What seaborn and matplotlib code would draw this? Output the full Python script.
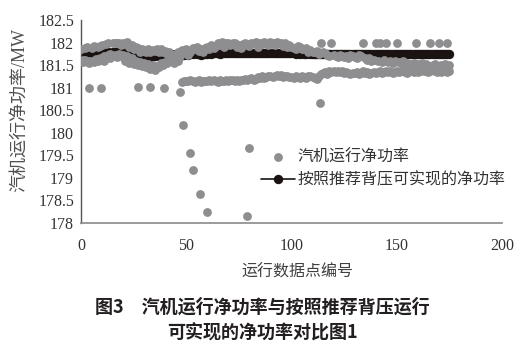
import numpy as np
import pandas as pd
import seaborn as sns
import matplotlib.pyplot as plt

# data point number 0..175
point_no = list(range(176))

# 按照推荐背压可实现的净功率 (black line)
recommended = [
    181.74, 181.72, 181.75, 181.73, 181.70, 181.74, 181.76, 181.72, 181.75, 181.73,
    181.76, 181.78, 181.75, 181.79, 181.77, 181.80, 181.78, 181.79, 181.77, 181.80,
    181.78, 181.76, 181.79, 181.75, 181.77, 181.74, 181.76, 181.72, 181.75, 181.71,
    181.73, 181.70, 181.72, 181.69, 181.71, 181.70, 181.73, 181.70, 181.74, 181.72,
    181.75, 181.73, 181.76, 181.74, 181.72, 181.75, 181.73, 181.71, 181.74, 181.72,
    181.74, 181.73, 181.75, 181.74, 181.76, 181.74, 181.75, 181.73, 181.75, 181.74,
    181.75, 181.76, 181.75, 181.76, 181.77, 181.76, 181.75, 181.76, 181.77, 181.76,
    181.76, 181.77, 181.76, 181.77, 181.76, 181.77, 181.76, 181.76, 181.77, 181.76,
    181.77, 181.76, 181.77, 181.76, 181.76, 181.77, 181.76, 181.77, 181.76, 181.76,
    181.76, 181.77, 181.76, 181.76, 181.77, 181.76, 181.76, 181.77, 181.76, 181.76,
    181.76, 181.76, 181.75, 181.76, 181.75, 181.76, 181.75, 181.75, 181.76, 181.75,
    181.74, 181.75, 181.74, 181.74, 181.75, 181.74, 181.74, 181.75, 181.74, 181.74,
    181.74, 181.74, 181.74, 181.74, 181.74, 181.74, 181.74, 181.74, 181.74, 181.74,
    181.74, 181.74, 181.74, 181.74, 181.74, 181.74, 181.74, 181.74, 181.74, 181.74,
    181.74, 181.74, 181.74, 181.74, 181.74, 181.74, 181.74, 181.74, 181.74, 181.74,
    181.74, 181.74, 181.74, 181.74, 181.74, 181.74, 181.74, 181.74, 181.74, 181.74,
    181.74, 181.74, 181.74, 181.74, 181.74, 181.74, 181.74, 181.74, 181.74, 181.74,
    181.74, 181.74, 181.74, 181.74, 181.74, 181.74,
]

# 汽机运行净功率 (gray points) - upper band, one per point
net_upper = [
    181.85, 181.62, 181.88, 181.90, 181.60, 181.87, 181.92, 181.64, 181.90, 181.93,
    181.95, 181.60, 181.97, 181.98, 181.66, 181.99, 182.00, 181.98, 182.00, 181.95,
    182.00, 181.97, 182.02, 181.90, 181.95, 181.85, 181.90, 181.88, 181.80, 181.85,
    181.82, 181.78, 181.85, 181.80, 181.84, 181.82, 181.86, 181.80, 181.85, 181.78,
    181.82, 181.75, 181.80, 181.70, 181.72, 181.65, 181.80, 181.70, 181.83, 181.78,
    181.85, 181.72, 181.80, 181.88, 181.85, 181.90, 181.82, 181.85, 181.78, 181.88,
    181.90, 181.85, 181.95, 181.88, 181.92, 182.00, 181.95, 182.02, 181.90, 181.98,
    182.00, 181.95, 181.98, 182.00, 181.90, 181.95, 181.88, 181.97, 182.00, 181.95,
    181.93, 182.00, 181.98, 182.02, 181.90, 182.00, 181.96, 182.02, 182.00, 181.95,
    182.02, 182.00, 181.95, 182.02, 182.00, 181.98, 181.92, 182.00, 181.90, 181.95,
    181.90, 181.88, 181.85, 181.92, 181.90, 181.86, 181.85, 181.88, 181.80, 181.84,
    181.80, 181.78, 181.82, 181.75, 182.00, 181.78, 181.76, 181.72, 181.70, 182.00,
    181.72, 181.70, 181.68, 181.72, 181.70, 181.68, 181.70, 181.66, 181.72, 181.70,
    181.68, 181.65, 181.72, 181.70, 182.00, 181.66, 181.62, 181.65, 181.60, 181.62,
    182.00, 181.60, 182.00, 181.58, 181.62, 182.00, 181.58, 181.60, 181.55, 181.60,
    182.00, 181.58, 181.55, 181.60, 181.52, 181.55, 181.50, 181.52, 181.55, 182.00,
    181.52, 181.50, 181.55, 181.50, 181.52, 181.48, 182.00, 181.50, 181.52, 181.48,
    181.99, 181.50, 181.45, 181.52, 181.98, 181.50,
]

# 汽机运行净功率 (gray points) - lower band, one per point
net_lower = [
    181.60, 181.58, 181.62, 181.60, 181.55, 181.60, 181.58, 181.62, 181.60, 181.65,
    181.62, 181.70, 181.68, 181.72, 181.75, 181.70, 181.72, 181.68, 181.75, 181.70,
    181.72, 181.60, 181.70, 181.55, 181.65, 181.52, 181.60, 181.50, 181.58, 181.48,
    181.55, 181.45, 181.52, 181.42, 181.50, 181.40, 181.48, 181.45, 181.55, 181.50,
    181.58, 181.55, 181.60, 181.62, 181.55, 181.62, 181.60, 180.90, 181.12, 181.15,
    181.15, 181.14, 181.16, 181.15, 181.13, 181.15, 181.16, 181.12, 181.15, 181.14,
    181.15, 181.16, 181.14, 181.18, 181.15, 181.12, 181.16, 181.15, 181.14, 181.17,
    181.15, 181.16, 181.18, 181.15, 181.17, 181.14, 181.16, 181.18, 181.20, 181.17,
    181.20, 181.22, 181.18, 181.20, 181.24, 181.22, 181.25, 181.22, 181.24, 181.26,
    181.25, 181.23, 181.26, 181.28, 181.25, 181.27, 181.24, 181.26, 181.25, 181.23,
    181.24, 181.22, 181.25, 181.23, 181.22, 181.25, 181.24, 181.22, 181.25, 181.26,
    181.24, 181.22, 181.20, 181.26, 181.30, 181.32, 181.35, 181.30, 181.36, 181.34,
    181.38, 181.35, 181.37, 181.34, 181.36, 181.33, 181.35, 181.32, 181.30, 181.33,
    181.32, 181.35, 181.30, 181.33, 181.36, 181.32, 181.34, 181.30, 181.33, 181.35,
    181.32, 181.34, 181.36, 181.33, 181.35, 181.38, 181.34, 181.36, 181.33, 181.35,
    181.37, 181.34, 181.36, 181.38, 181.35, 181.33, 181.36, 181.38, 181.34, 181.37,
    181.35, 181.38, 181.40, 181.36, 181.38, 181.35, 181.37, 181.40, 181.36, 181.34,
    181.38, 181.35, 181.40, 181.37, 181.35, 181.38,
]

# isolated low readings
low_x = [4, 9.5, 27, 33, 39.5, 48.5, 51.8, 53.3, 56.5, 59.8, 79, 79.8, 113.5]
low_y = [181.0, 181.0, 181.02, 181.02, 181.0, 180.18, 179.56, 179.18,
         178.65, 178.25, 178.15, 179.67, 180.65]

yticks = [178, 178.5, 179, 179.5, 180, 180.5, 181, 181.5, 182, 182.5]
ytick_labels = ['178', '178.5', '179', '179.5', '180', '180.5', '181', '181.5', '182', '182.5']
xticks = [0, 50, 100, 150, 200]

gray = pd.DataFrame({
    'x': point_no + point_no + low_x,
    'y': net_upper + net_lower + low_y,
})
black = pd.DataFrame({'x': point_no, 'y': recommended})

sns.set_style('white')
plt.rcParams['font.family'] = ['Liberation Serif', 'Noto Sans CJK SC']
cjk = ['Liberation Serif', 'Noto Sans CJK SC']

fig = plt.figure(figsize=(5.31, 3.53), dpi=100)
ax = fig.add_axes([0.1525, 0.3683, 0.7929, 0.575])

sns.lineplot(data=black, x='x', y='y', ax=ax, color='#1a1311', lw=1.2,
             marker='o', markersize=6, markeredgecolor='#1a1311',
             estimator=None, label='按照推荐背压可实现的净功率', zorder=2)
sns.scatterplot(data=gray, x='x', y='y', ax=ax, color='#8e8e90', s=40,
                linewidth=0, label='汽机运行净功率', zorder=3)

ax.set_xlim(0, 200)
ax.set_ylim(178, 182.5)
ax.set_xticks(xticks)
ax.set_yticks(yticks)
ax.set_yticklabels(ytick_labels)
ax.tick_params(axis='both', length=0, labelsize=11.5, colors='#333333')
ax.tick_params(axis='x', pad=11)
ax.tick_params(axis='y', pad=5)
sns.despine(ax=ax)
ax.spines['left'].set_color('#555555')
ax.spines['bottom'].set_color('#8a8a8a')
ax.spines['left'].set_linewidth(1.0)
ax.spines['bottom'].set_linewidth(1.2)

ax.set_xlabel('运行数据点编号', family=cjk, fontsize=11.5, color='#404040', va='center')
ax.xaxis.set_label_coords(0.515, -0.246)
ax.set_ylabel('汽机运行净功率/MW', family=cjk, fontsize=13, color='#505050', va='center')
ax.yaxis.set_label_coords(-0.145, 0.557)

handles, labels = ax.get_legend_handles_labels()
order = [labels.index('汽机运行净功率'), labels.index('按照推荐背压可实现的净功率')]
ax.legend([handles[i] for i in order], [labels[i] for i in order],
          loc='upper left', bbox_to_anchor=(0.4915, 0.5765), bbox_transform=fig.transFigure,
          frameon=False, borderpad=0, borderaxespad=0, handlelength=2.1,
          handletextpad=0.2, labelspacing=0.45,
          prop={'family': cjk, 'size': 11.5}, labelcolor='#333333')

fig.text(0.4934, 0.1303, '图3\u3000汽机运行净功率与按照推荐背压运行', family='Noto Sans CJK SC',
         fontsize=13, weight='bold', color='#231f20', ha='center', va='center')
fig.text(0.4934, 0.0567, '可实现的净功率对比图1', family='Noto Sans CJK SC',
         fontsize=13, weight='bold', color='#231f20', ha='center', va='center')

fig.savefig('out.png', dpi=100)
